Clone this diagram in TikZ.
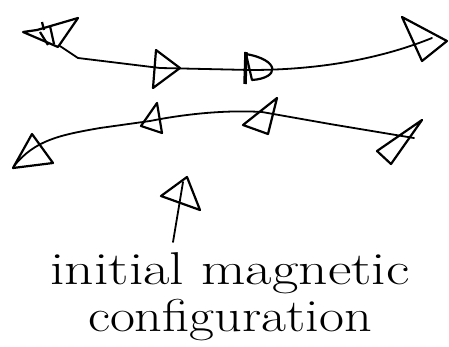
\documentclass[tikz,border=0pt]{standalone}
\usepackage{tikz}
\usetikzlibrary{positioning}

\begin{document}
\begin{tikzpicture}[
    x=1pt, y=-1pt,
    field/.style={line width=1.8pt, line cap=round, line join=round},
    spin/.style={line width=2.2pt, line join=round},
    label/.style={align=center, font=\fontsize{46}{47}\selectfont, inner sep=0pt}
]
\useasboundingbox (0,0) rectangle (449,346);
% upper field line
\coordinate (ul0) at (60,46);
\coordinate (ul1) at (160,68);
\coordinate (ul2) at (250,70);
\coordinate (ul3) at (432,38);
\draw[field] (ul0) -- (78,58) -- (ul1) -- (ul2) .. controls (330,70) and (390,55) .. (ul3);
% lower field line
\coordinate (ll0) at (14,166);
\coordinate (ll1) at (150,121);
\coordinate (ll2) at (262,112);
\coordinate (ll3) at (414,138);
\draw[field] (ll0) .. controls (35,140) and (60,135) .. (100,128) -- (ll1)
    .. controls (190,113) and (230,110) .. (ll2) -- (330,124) -- (ll3);
% spins on upper line
\draw[spin] (23,32) -- (37,30) -- (78,18) -- (58,47) -- cycle;
\draw[spin] (40,32) -- (48,45) (50,26) -- (54,44) (42,22) -- (44,30);
\draw[spin] (156,50) -- (180,68) -- (153,88) -- cycle;
\draw[spin] (246,54) .. controls (280,60) and (280,78) .. (252,80) -- cycle;
\draw[spin, line width=3.5pt] (246,52) -- (245,84);
\draw[spin] (402,17) -- (447,41) -- (422,61) -- cycle;
% spins on lower line
\draw[spin] (13,168) -- (32,134) -- (53,163) -- cycle;
\draw[spin] (157,103) -- (141,126) -- (162,133) -- cycle;
\draw[spin] (277,98) -- (243,125) -- (268,134) -- cycle;
\draw[spin] (422,120) -- (377,151) -- (391,164) -- cycle;
% initial spin
\coordinate (stem) at (173,242);
\coordinate (tri) at (181,194);
\draw[spin] (187,177) -- (161,196) -- (200,210) -- cycle;
\draw[field] (stem) -- (tri) -- (183,182);
\node[label] (cap) at (230,297) {\scalebox{1.25}[1]{initial magnetic}\\\scalebox{1.18}[1]{configuration}};
\end{tikzpicture}
\end{document}
